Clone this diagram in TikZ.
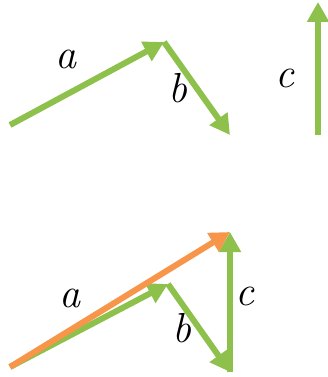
\documentclass[tikz,border=0pt]{standalone}
\usepackage{fontspec}
\usepackage{tikz}
\usetikzlibrary{arrows.meta}
\definecolor{vgreen}{HTML}{8EC04C}
\definecolor{vorange}{HTML}{F7964A}

\begin{document}
\begin{tikzpicture}[x=1pt,y=-1pt,
  vec/.style={line width=6pt,draw=vgreen,-{Triangle[length=20pt,width=21pt]}},
  sumvec/.style={vec,draw=vorange},
  lbl/.style={font=\fontsize{42}{46}\selectfont\itshape,inner sep=0pt}]
\useasboundingbox (0,0) rectangle (328,377);

% separate vectors
\coordinate (a0) at (10,125);
\coordinate (a1) at (164,42);
\coordinate (b1) at (230,135);
\coordinate (c0) at (318,135);
\coordinate (c1) at (318,2);
\draw[vec] (a0) -- (a1);
\draw[vec] (a1) -- (b1);
\draw[vec] (c0) -- (c1);
\node[lbl] (la) at (66,59) {a};
\node[lbl] (lb) at (178,88) {b};
\node[lbl] (lc) at (285,78) {c};

% head to tail, with the sum
\coordinate (p0) at (10,367);
\coordinate (p1) at (168,284);
\coordinate (p2) at (230,372);
\coordinate (p3) at (230,232);
\draw[vec] (p0) -- (p1);
\draw[vec] (p1) -- (p2);
\draw[vec] (p2) -- (p3);
\draw[sumvec] (p0) -- (p3);
\node[lbl] (sa) at (70,298) {a};
\node[lbl] (sb) at (182,328) {b};
\node[lbl] (sc) at (245,296) {c};
\end{tikzpicture}
\end{document}
